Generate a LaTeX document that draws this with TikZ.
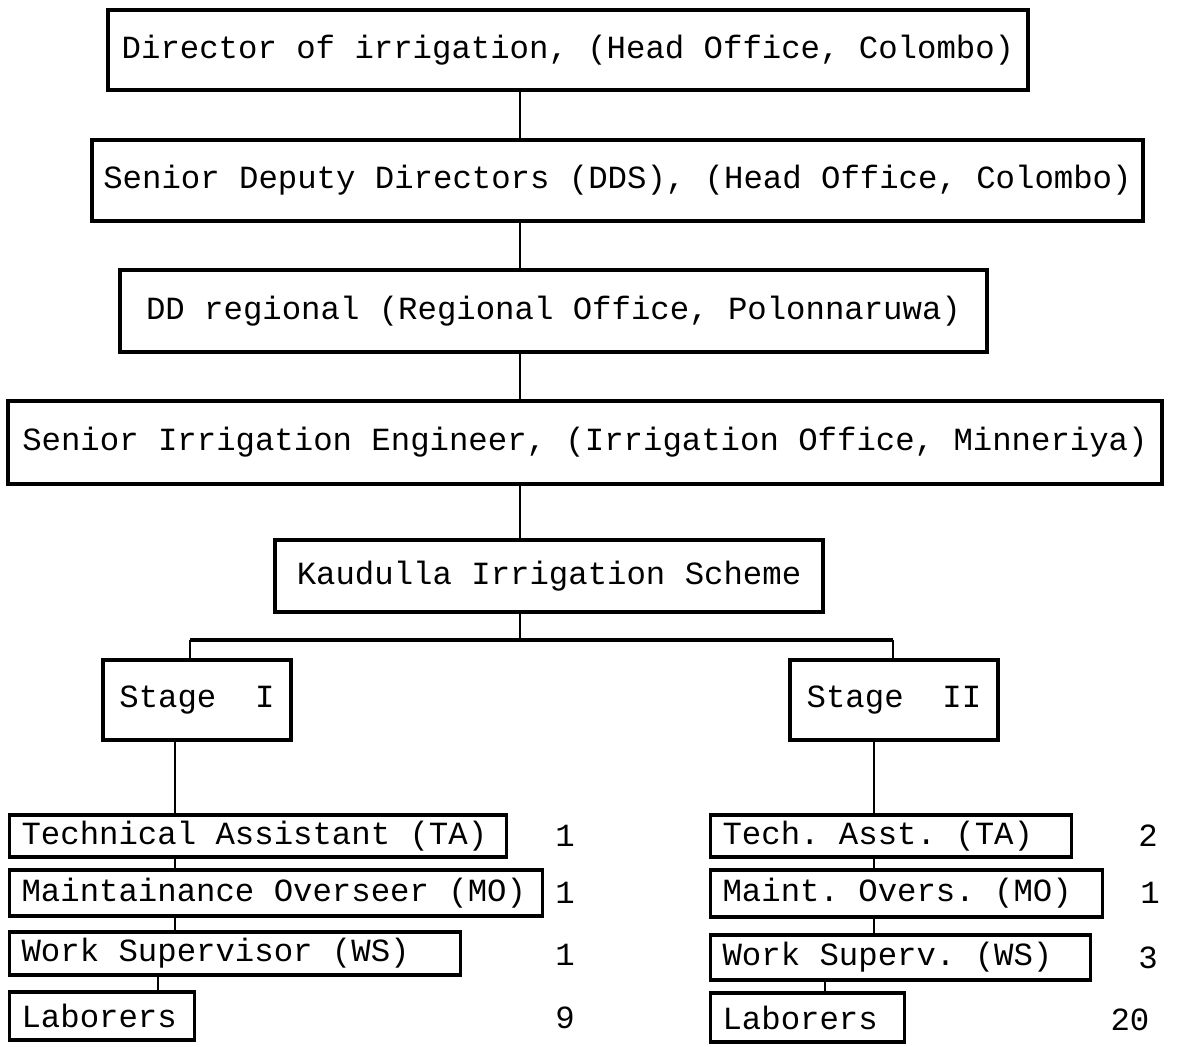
\documentclass[tikz,border=0pt]{standalone}
\usepackage{fontspec}
\setmainfont{Liberation Mono}[WordSpace={1,0,0}]
\usepackage{tikz}
\usetikzlibrary{positioning, calc}
\tikzstyle{box} = [draw, line width=0.9pt, inner sep=0pt]
\tikzstyle{staff} = [draw, line width=0.9pt, anchor=west, inner xsep=0.12cm, inner ysep=0pt]
\tikzstyle{link} = [line width=0.6pt]
\tikzstyle{count} = [inner sep=0pt]
\newcommand{\stafftext}[2]{\makebox[#1][l]{#2}}
\frenchspacing

\begin{document}
\begin{tikzpicture}[font=\fontsize{9.2}{11}\selectfont]
\path[fill=white, use as bounding box] (0,0) rectangle (11.85,-10.47);

% offices
\node[box, minimum width=9.20cm, minimum height=0.80cm] (dir) at (5.68,-0.50) {Director of irrigation, (Head Office, Colombo)};
\node[box, minimum width=10.51cm, minimum height=0.81cm] (dds) at (6.175,-1.805) {Senior Deputy Directors (DDS), (Head Office, Colombo)};
\node[box, minimum width=8.67cm, minimum height=0.82cm] (ddr) at (5.535,-3.11) {DD regional (Regional Office, Polonnaruwa)};
\node[box, minimum width=11.54cm, minimum height=0.83cm] (sie) at (5.85,-4.425) {Senior Irrigation Engineer, (Irrigation Office, Minneriya)};
\node[box, minimum width=5.48cm, minimum height=0.72cm] (kis) at (5.49,-5.76) {Kaudulla Irrigation Scheme};

% stages
\node[box, minimum width=1.88cm, minimum height=0.80cm] (st1) at (1.97,-7.00) {Stage~~I};
\node[box, minimum width=2.08cm, minimum height=0.80cm] (st2) at (8.94,-7.00) {Stage~~II};

% staff, stage I
\node[staff, minimum height=0.42cm] (ta1) at (0.08,-8.36) {\stafftext{4.73cm}{Technical Assistant (TA)}};
\node[staff, minimum height=0.46cm] (mo1) at (0.08,-8.93) {\stafftext{5.09cm}{Maintainance Overseer (MO)}};
\node[staff, minimum height=0.43cm] (ws1) at (0.08,-9.535) {\stafftext{4.27cm}{Work Supervisor (WS)}};
\node[staff, minimum height=0.48cm] (lb1) at (0.08,-10.16) {\stafftext{1.61cm}{Laborers}};

% staff, stage II
\node[staff, minimum height=0.42cm] (ta2) at (7.09,-8.36) {\stafftext{3.37cm}{Tech. Asst. (TA)}};
\node[staff, minimum height=0.47cm] (mo2) at (7.09,-8.935) {\stafftext{3.68cm}{Maint. Overs. (MO)}};
\node[staff, minimum height=0.45cm] (ws2) at (7.09,-9.575) {\stafftext{3.56cm}{Work Superv. (WS)}};
\node[staff, minimum height=0.49cm] (lb2) at (7.09,-10.175) {\stafftext{1.70cm}{Laborers}};

% numbers
\node[count] (n1) at (5.65,-8.36) {1};
\node[count] (n2) at (5.65,-8.93) {1};
\node[count] (n3) at (5.65,-9.55) {1};
\node[count] (n4) at (5.65,-10.18) {9};
\node[count] (n5) at (11.48,-8.36) {2};
\node[count] (n6) at (11.50,-8.93) {1};
\node[count] (n7) at (11.48,-9.58) {3};
\node[count] (n8) at (11.30,-10.20) {20};

% connectors
\coordinate (spine) at (5.20,0);
\coordinate (barl) at (1.90,-6.40);
\coordinate (barr) at (8.93,-6.40);
\coordinate (c1) at (1.75,0);
\coordinate (c2) at (1.58,0);
\coordinate (d1) at (8.74,0);
\coordinate (d2) at (8.25,0);

\foreach \a/\b in {dir/dds, dds/ddr, ddr/sie, sie/kis}
  \draw[link] (\a.south -| spine) -- (\b.north -| spine);
\draw[link] (kis.south -| spine) -- (spine |- barl);
\draw[line width=1pt] (barl) -- (barr);
\draw[link] (barl) -- (barl |- st1.north);
\draw[link] (barr) -- (barr |- st2.north);

\draw[link] (st1.south -| c1) -- (ta1.north -| c1);
\draw[link] (ta1.south -| c1) -- (mo1.north -| c1);
\draw[link] (mo1.south -| c1) -- (ws1.north -| c1);
\draw[link] (ws1.south -| c2) -- (lb1.north -| c2);

\draw[link] (st2.south -| d1) -- (ta2.north -| d1);
\draw[link] (ta2.south -| d1) -- (mo2.north -| d1);
\draw[link] (mo2.south -| d1) -- (ws2.north -| d1);
\draw[link] (ws2.south -| d2) -- (lb2.north -| d2);
\end{tikzpicture}
\end{document}
